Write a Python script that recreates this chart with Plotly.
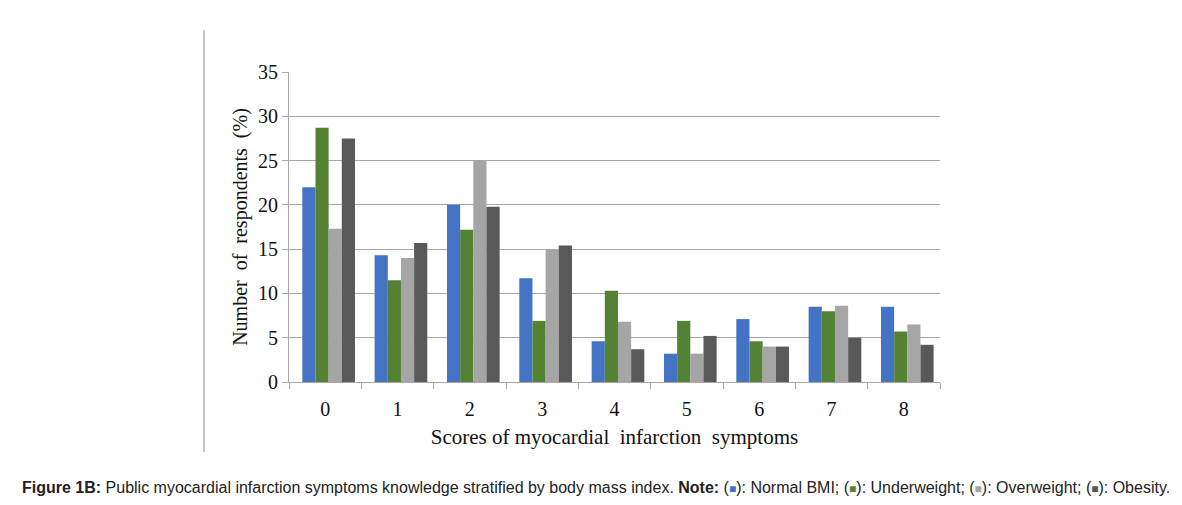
import plotly.graph_objects as go

categories = ["0", "1", "2", "3", "4", "5", "6", "7", "8"]
normal_bmi = [22.0, 14.3, 20.0, 11.7, 4.6, 3.2, 7.1, 8.5, 8.5]
underweight = [28.7, 11.5, 17.2, 6.9, 10.3, 6.9, 4.6, 8.0, 5.7]
overweight = [17.3, 14.0, 25.0, 15.0, 6.8, 3.2, 4.0, 8.6, 6.5]
obesity = [27.5, 15.7, 19.8, 15.4, 3.7, 5.2, 4.0, 5.0, 4.2]
y_ticks = [0, 5, 10, 15, 20, 25, 30, 35]

series = [
    ("Normal BMI", normal_bmi, "#4472C4"),
    ("Underweight", underweight, "#548235"),
    ("Overweight", overweight, "#A5A5A5"),
    ("Obesity", obesity, "#595959"),
]

bar_w = 0.182
fig = go.Figure()
for i, (name, vals, col) in enumerate(series):
    fig.add_trace(go.Bar(x=categories, y=vals, name=name, marker_color=col,
                         marker_line_width=0, width=bar_w, offset=-0.316 + i * bar_w))

serif = "Liberation Serif, Times New Roman, serif"
# page body has an 8px margin, so plot area is placed 8px up/left of the target
L, T = 281, 64
W, H = 651, 310
fig.update_layout(
    width=1182, height=505,
    margin=dict(l=L, r=1182 - L - W, t=T, b=505 - T - H),
    paper_bgcolor="white", plot_bgcolor="white",
    barmode="overlay",
    showlegend=False,
    font=dict(family=serif, size=20, color="#111"),
)
fig.update_yaxes(
    range=[0, 35], tickvals=y_ticks, showgrid=True, gridcolor="#A6A6A6", gridwidth=1.2,
    showline=True, linecolor="#A6A6A6", linewidth=1.2, ticks="outside", ticklen=6,
    tickcolor="#A6A6A6", zeroline=False,
    title=dict(text="Number&nbsp; of&nbsp; respondents&nbsp; (%)", font=dict(family=serif, size=20), standoff=4),
    tickfont=dict(family=serif, size=20),
)
fig.update_xaxes(
    showline=True, linecolor="#A6A6A6", linewidth=1.2, ticks="outside", ticklen=6,
    tickcolor="#A6A6A6", tickson="boundaries", showgrid=False, ticklabelstandoff=9,
    title=dict(text="Scores of myocardial&nbsp; infarction&nbsp; symptoms", font=dict(family=serif, size=21), standoff=10),
    tickfont=dict(family=serif, size=20),
)

# frame line at the left
fig.add_shape(type="line", xref="paper", yref="paper", x0=(204 - 289) / W, x1=(204 - 289) / W,
              y0=(382 - 452) / H, y1=(382 - 30) / H, line=dict(color="#A0A0A0", width=1.2))

sq = lambda c: "(<span style='color:%s;font-size:12px'>■</span>)" % c
caption = ("<b>Figure 1B:</b> Public myocardial infarction symptoms knowledge stratified by body mass index. "
           "<b>Note:</b> " + sq("#4472C4") + ": Normal BMI; " + sq("#548235") + ": Underweight; "
           + sq("#A5A5A5") + ": Overweight; " + sq("#595959") + ": Obesity.")
fig.add_annotation(text=caption, xref="paper", yref="paper", x=(20 - 289) / W, y=(382 - 487) / H,
                   xanchor="left", yanchor="middle", showarrow=False,
                   font=dict(family="Liberation Sans, Arial, sans-serif", size=16, color="#222"))

fig.write_html("out.html")
